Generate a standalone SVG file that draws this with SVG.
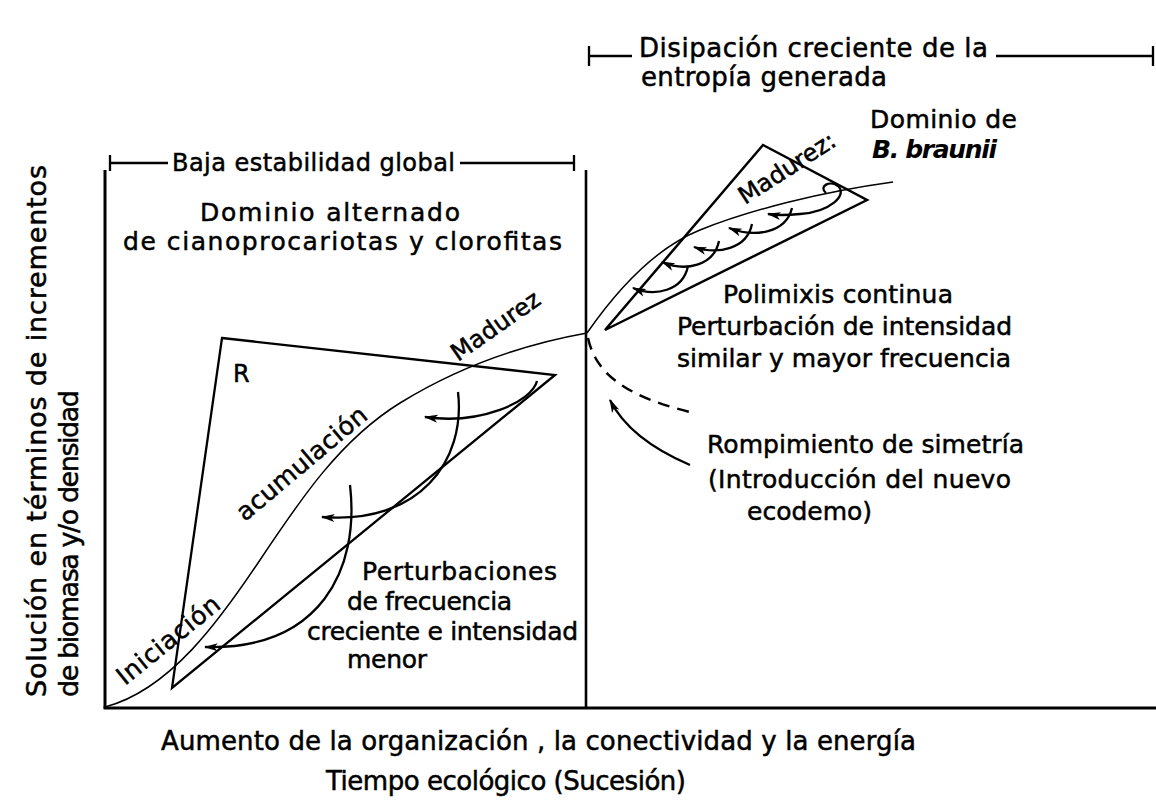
<svg xmlns="http://www.w3.org/2000/svg" width="1156" height="801" viewBox="0 0 1156 801">
<defs>
<style>
text{font-family:"DejaVu Sans","Liberation Sans",sans-serif;fill:#000;stroke:#000;stroke-width:0.5;font-size:26px}
.s24{font-size:24px}
.s25{font-size:25px}
.ax{stroke:#000;stroke-width:3;fill:none}
.ln{stroke:#000;stroke-width:2.3;fill:none;stroke-linejoin:miter}
.thin{stroke:#000;stroke-width:1.5;fill:none}
.arr{stroke:#000;stroke-width:2.3;fill:none;marker-end:url(#ah)}
.dash{stroke:#000;stroke-width:2.5;fill:none;stroke-dasharray:12 8}
</style>
<marker id="ah" viewBox="0 0 12 8" refX="11" refY="4" markerWidth="6" markerHeight="4" orient="auto" markerUnits="strokeWidth">
<path d="M0,0.5 L12,4 L0,7.5 L3,4 z" fill="#000"/>
</marker>
</defs>
<rect width="1156" height="801" fill="#fff"/>

<g id="axes">
<line class="ax" x1="105" y1="170" x2="105" y2="708"/>
<line class="ax" x1="103.5" y1="708" x2="1156" y2="708"/>
<line class="ln" x1="586" y1="170" x2="586" y2="708" style="stroke-width:2.6"/>
</g>

<g id="y-label">
<text transform="translate(46,697) rotate(-90)" style="font-size:27px" textLength="532" lengthAdjust="spacing">Solución en términos de incrementos</text>
<text transform="translate(78,697) rotate(-90)" style="font-size:27px" textLength="307" lengthAdjust="spacing">de biomasa y/o densidad</text>
</g>

<g id="x-label">
<text x="161" y="750" textLength="755" lengthAdjust="spacing">Aumento de la organización , la conectividad y la energía</text>
<text x="326" y="790" textLength="360" lengthAdjust="spacing">Tiempo ecológico (Sucesión)</text>
</g>

<g id="bracket-left">
<path class="ln" d="M110,155 V171 M110,163 H168 M460,163 H574 M574,155 V171"/>
<text x="172" y="171" class="s24" textLength="283" lengthAdjust="spacing">Baja estabilidad global</text>
</g>

<g id="bracket-right">
<path class="ln" d="M589,46 V66 M589,56 H632 M996,56 H1153 M1153,46 V66"/>
<text x="639" y="57" textLength="349" lengthAdjust="spacing">Disipación creciente de la</text>
<text x="641" y="86" textLength="246" lengthAdjust="spacing">entropía generada</text>
</g>

<g id="region-left-title">
<text x="200" y="221" class="s25" textLength="260" lengthAdjust="spacing">Dominio alternado</text>
<text x="123" y="250" class="s25" textLength="439" lengthAdjust="spacing">de cianoprocariotas y clorofitas</text>
</g>

<g id="triangle-R">
<polygon class="ln" points="222,338 555,375 172,688"/>
<text x="233" y="382" class="s24">R</text>
</g>

<g id="triangle-right">
<polygon class="ln" points="605,330 763,145 867,200" style="stroke-width:2.5"/>
</g>

<g id="connectors">
<path class="thin" d="M105,707 C170,690 220,620 260,560 S340,440 400,403 S520,345 587,333"/>
<path class="thin" d="M587,333 C610,300 650,250 700,230 S820,192 893,182"/>
<path class="dash" d="M588,338 C595,370 620,395 690,412"/>
<path class="arr" d="M537,381 C532,402 480,425 425,417"/>
<path class="arr" d="M458,392 C466,460 420,525 322,517"/>
<path class="arr" d="M350,485 C360,570 320,650 205,647"/>
<path class="arr" d="M690,465 C655,450 625,430 610,400"/>
<path class="arr" d="M688,266 C683,291 655,297 633,288"/>
<path class="arr" d="M719,241 C714,266 685,272 662,262"/>
<path class="arr" d="M752,224 C747,249 718,255 694,247"/>
<path class="arr" d="M792,208 C786,233 755,238 729,228"/>
<path class="arr" d="M826,193 C818,186 830,180 838,186 C848,195 830,212 800,214 C790,215 780,216 768,214"/>
</g>

<g id="stage-labels">
<text transform="translate(125,686) rotate(-39)" class="s25" textLength="125" lengthAdjust="spacing">Iniciación</text>
<text transform="translate(245,522) rotate(-40)" class="s25" textLength="162" lengthAdjust="spacing">acumulación</text>
<text transform="translate(458,362) rotate(-35)" class="s24" textLength="103" lengthAdjust="spacing">Madurez</text>
<text transform="translate(745,205) rotate(-33)" class="s24">Madurez:</text>
</g>

<g id="perturbaciones-label">
<text x="362" y="580" class="s25" textLength="195" lengthAdjust="spacing">Perturbaciones</text>
<text x="347" y="610" class="s25" textLength="165" lengthAdjust="spacing">de frecuencia</text>
<text x="307" y="640" class="s25" textLength="271" lengthAdjust="spacing">creciente e intensidad</text>
<text x="347" y="668" class="s25" textLength="80" lengthAdjust="spacing">menor</text>
</g>

<g id="braunii-label">
<text x="870" y="128" class="s25" textLength="147" lengthAdjust="spacing">Dominio de</text>
<text x="872" y="158" class="s25" textLength="125" lengthAdjust="spacing" style="font-style:italic;font-weight:bold;stroke-width:0">B. braunii</text>
</g>

<g id="polimixis-label">
<text x="723" y="303" class="s25" textLength="230" lengthAdjust="spacing">Polimixis continua</text>
<text x="677" y="335" class="s25" textLength="335" lengthAdjust="spacing">Perturbación de intensidad</text>
<text x="677" y="367" class="s25" textLength="334" lengthAdjust="spacing">similar y mayor frecuencia</text>
</g>

<g id="simetria-label">
<text x="707" y="453" class="s25" textLength="317" lengthAdjust="spacing">Rompimiento de simetría</text>
<text x="708" y="488" class="s25" textLength="303" lengthAdjust="spacing">(Introducción del nuevo</text>
<text x="747" y="520" class="s25">ecodemo)</text>
</g>
</svg>
